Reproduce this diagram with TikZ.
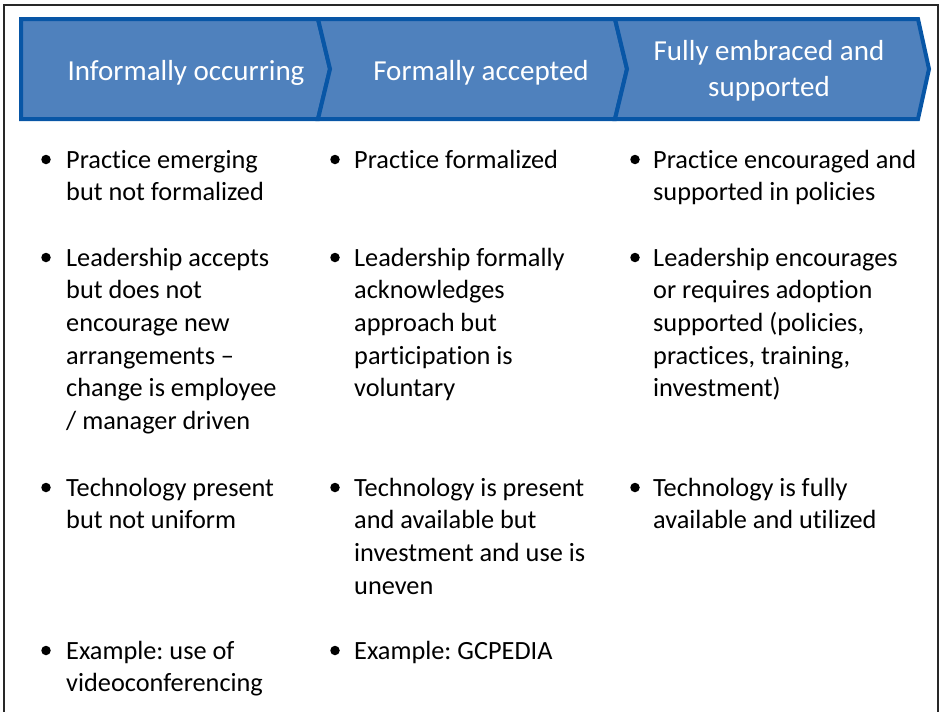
\documentclass[tikz,border=0pt]{standalone}
\usepackage{fontspec}
\setmainfont{Carlito}[Ligatures=NoCommon]
\frenchspacing
\definecolor{chevfill}{RGB}{79,129,189}
\definecolor{chevline}{RGB}{8,86,166}
\definecolor{framegray}{RGB}{40,40,40}
% multi-line cell whose baseline is the first line
\newcommand\cell[1]{\begin{tabular}[t]{@{}l@{}}#1\end{tabular}}
\newcommand\ccell[1]{\begin{tabular}[t]{@{}c@{}}#1\end{tabular}}
\begin{document}
\begin{tikzpicture}[x=1pt,y=-1pt,
  chevron/.style={fill=chevfill,draw=chevline,line width=4pt,line join=miter},
  headtext/.style={text=white,inner sep=0pt,anchor=base,
    font=\fontsize{29}{36.5}\selectfont},
  body/.style={inner sep=0pt,anchor=base west,
    font=\fontsize{26.3}{32.7}\selectfont},
  dot/.style={circle,fill=black,minimum size=9.5pt,inner sep=0pt}]
\useasboundingbox (0,0) rectangle (940,712);
% outer frame (open at the bottom)
\draw[framegray,line width=2.4pt] (4,712) -- (4,5) -- (938,5) -- (938,712);
% process chevrons
\draw[chevron] (21,19) -- (318,19) -- (330,69) -- (318,119) -- (21,119) -- cycle;
\draw[chevron] (318,19) -- (615,19) -- (627,69) -- (615,119) -- (318,119) -- (330,69) -- cycle;
\draw[chevron] (615,19) -- (918,19) -- (929,69) -- (918,119) -- (615,119) -- (627,69) -- cycle;
\node[headtext] (h1) at (186,80) {Informally occurring};
\node[headtext] (h2) at (481,80) {Formally accepted};
\node[headtext] (h3) at (769,60) {\ccell{Fully embraced and\\supported}};
% column 1
\node[dot] (b11) at (46,159.5) {};
\node[body] (t11) at (66,168) {\cell{Practice emerging\\but not formalized}};
\node[dot] (b12) at (46,257.5) {};
\node[body] (t12) at (66,266) {\cell{Leadership accepts\\but does not\\encourage new\\arrangements –\\change is employee\\/ manager driven}};
\node[dot] (b13) at (46,487.5) {};
\node[body] (t13) at (66,496) {\cell{Technology present\\but not uniform}};
\node[dot] (b14) at (46,650.5) {};
\node[body] (t14) at (66,659) {\cell{Example: use of\\videoconferencing}};
% column 2
\node[dot] (b21) at (335,159.5) {};
\node[body] (t21) at (354,168) {\cell{Practice formalized}};
\node[dot] (b22) at (335,257.5) {};
\node[body] (t22) at (354,266) {\cell{Leadership formally\\acknowledges\\approach but\\participation is\\voluntary}};
\node[dot] (b23) at (335,487.5) {};
\node[body] (t23) at (354,496) {\cell{Technology is present\\and available but\\investment and use is\\uneven}};
\node[dot] (b24) at (335,650.5) {};
\node[body] (t24) at (354,659) {\cell{Example: GCPEDIA}};
% column 3
\node[dot] (b31) at (635,159.5) {};
\node[body] (t31) at (653,168) {\cell{Practice encouraged and\\supported in policies}};
\node[dot] (b32) at (635,257.5) {};
\node[body] (t32) at (653,266) {\cell{Leadership encourages\\or requires adoption\\supported (policies,\\practices, training,\\investment)}};
\node[dot] (b33) at (635,487.5) {};
\node[body] (t33) at (653,496) {\cell{Technology is fully\\available and utilized}};
\end{tikzpicture}
\end{document}
